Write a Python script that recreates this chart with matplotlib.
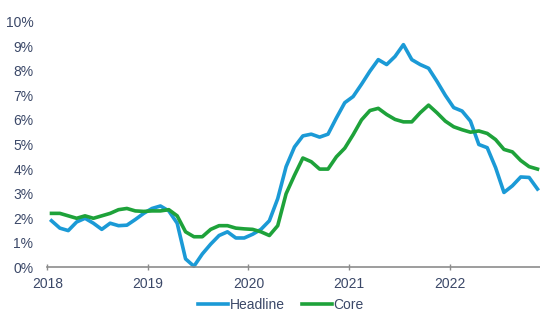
import matplotlib
matplotlib.use("Agg")
import matplotlib.pyplot as plt
import numpy as np

headline = [1.9, 1.6, 1.5, 1.85, 2.0, 1.8, 1.55, 1.8, 1.7, 1.72, 1.95, 2.2,
            2.4, 2.5, 2.3, 1.8, 0.35, 0.05, 0.55, 0.95, 1.3, 1.45, 1.2, 1.2,
            1.35, 1.55, 1.9, 2.8, 4.1, 4.9, 5.35, 5.42, 5.3, 5.42, 6.08, 6.7,
            6.95, 7.45, 7.98, 8.45, 8.25, 8.58, 9.06, 8.45, 8.25, 8.1, 7.57, 7.0,
            6.5, 6.36, 5.95, 5.0, 4.87, 4.06, 3.05, 3.32, 3.68, 3.66, 3.19]
core = [2.2, 2.2, 2.1, 2.0, 2.1, 2.0, 2.1, 2.2, 2.35, 2.4, 2.3, 2.28,
        2.3, 2.3, 2.35, 2.1, 1.45, 1.25, 1.25, 1.55, 1.7, 1.7, 1.6, 1.57,
        1.55, 1.45, 1.3, 1.7, 3.0, 3.75, 4.45, 4.3, 4.0, 4.0, 4.5, 4.85,
        5.4, 6.0, 6.38, 6.47, 6.22, 6.02, 5.92, 5.92, 6.29, 6.6, 6.29, 5.95,
        5.72, 5.6, 5.5, 5.55, 5.45, 5.2, 4.8, 4.7, 4.35, 4.1, 4.0]
year_labels = ["2018", "2019", "2020", "2021", "2022"]
ytick_vals = list(range(0, 11))

text_color = "#3b4868"
blue = "#1b9ad6"
green = "#1ea23a"

plt.rcParams['font.family'] = ['Liberation Sans', 'DejaVu Sans']

fig = plt.figure(figsize=(5.4, 3.21), dpi=100)
ax = fig.add_axes([0.0876, 0.1667, 0.9124, 0.7663])

months = np.arange(len(headline)) + 0.5
ax.plot(months, headline, color=blue, lw=2.6, label="Headline", clip_on=False)
ax.plot(months, core, color=green, lw=2.6, label="Core", clip_on=False)

ax.set_xlim(0, 58.8)
ax.set_ylim(0, 10)

ax.set_xticks([12 * i for i in range(len(year_labels))])
ax.set_xticklabels(year_labels)
ax.set_yticks(ytick_vals)
ax.set_yticklabels([f"{v}%" for v in ytick_vals])

for s in ["top", "right", "left"]:
    ax.spines[s].set_visible(False)
ax.spines["bottom"].set_color("#8c8c8c")
ax.spines["bottom"].set_linewidth(1.2)

ax.tick_params(axis="x", direction="inout", length=5, width=1, color="#8c8c8c",
               labelsize=10, labelcolor=text_color, pad=4)
ax.tick_params(axis="y", length=0, labelsize=10, labelcolor=text_color, pad=10)

leg = fig.legend(loc="lower center", bbox_to_anchor=(0.52, -0.01), ncol=2,
                 frameon=False, fontsize=10, handlelength=2.2, handletextpad=0.1,
                 columnspacing=1.2)
for t in leg.get_texts():
    t.set_color(text_color)

fig.savefig("out.png", dpi=100)
